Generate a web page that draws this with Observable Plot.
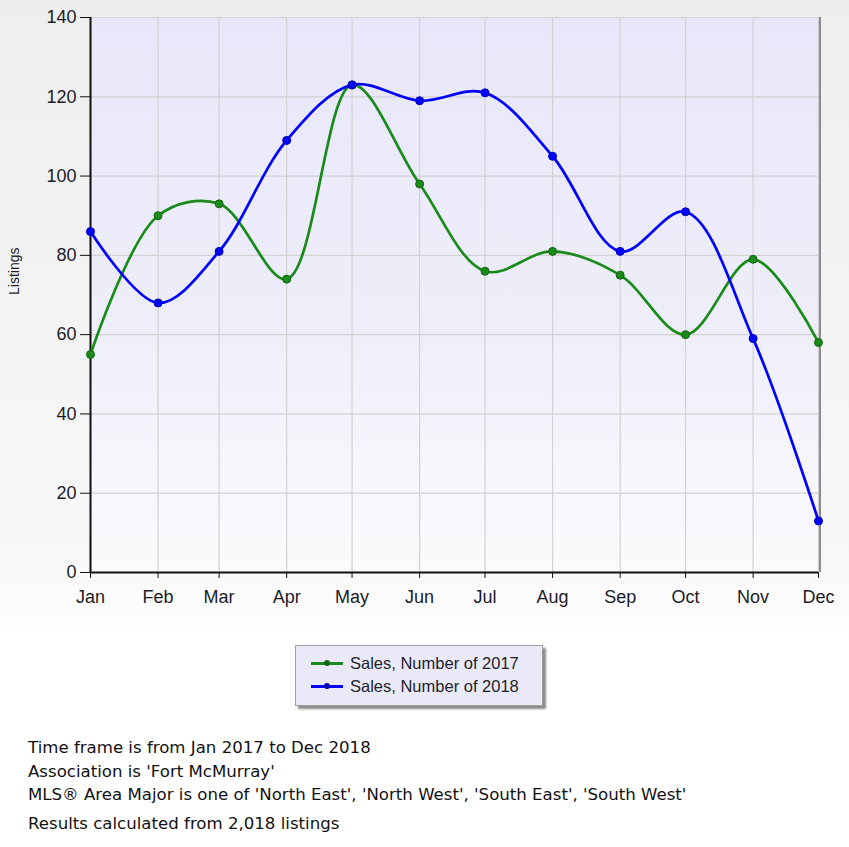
<!DOCTYPE html>
<html>
<head>
<meta charset="utf-8">
<script src="https://cdn.jsdelivr.net/npm/d3@7"></script>
<script src="https://cdn.jsdelivr.net/npm/@observablehq/plot@0.6"></script>
<style>
  html, body { margin: 0; padding: 0; }
  body { width: 849px; height: 847px; position: relative; overflow: hidden;
         background: linear-gradient(#eeeeee 0px, #f8f8f8 560px, #ffffff 640px); }
  #chart { position: absolute; left: 0; top: 0; }
  #legend { position: absolute; left: 295px; top: 645px; width: 246px; height: 59px;
            background: #e9e9f8; border: 1px solid #a0a0a0; box-shadow: 3px 3px 2px #8a8a8a;
            font-family: "Liberation Sans", Arial, sans-serif; font-size: 16.5px; color: #1e1e2a; }
  .row { position: absolute; left: 0; height: 20px; width: 100%; }
  .swatch { position: absolute; left: 15px; top: 9px; width: 32px; height: 3px; }
  .swatch i { position: absolute; left: 13px; top: -2px; width: 6px; height: 6px; border-radius: 50%; }
  .lbl { position: absolute; left: 54px; top: 0; line-height: 20px; white-space: nowrap; }
  #notes { position: absolute; left: 28px; top: 736px; font-family: "DejaVu Sans", Verdana, sans-serif;
           font-size: 16.6px; color: #111; line-height: 23.5px; }
  #notes .last { margin-top: 5px; }
</style>
</head>
<body>
<div id="chart"></div>
<div id="legend"></div>
<div id="notes">
  <div>Time frame is from Jan 2017 to Dec 2018</div>
  <div>Association is 'Fort McMurray'</div>
  <div>MLS® Area Major is one of 'North East', 'North West', 'South East', 'South West'</div>
  <div class="last">Results calculated from 2,018 listings</div>
</div>
<script>
const months = ["Jan","Feb","Mar","Apr","May","Jun","Jul","Aug","Sep","Oct","Nov","Dec"];
const sales2017 = [55, 90, 93, 74, 123, 98, 76, 81, 75, 60, 79, 58];
const sales2018 = [86, 68, 81, 109, 123, 119, 121, 105, 81, 91, 59, 13];
const yTicks = [0, 20, 40, 60, 80, 100, 120, 140];
const seriesNames = ["Sales, Number of 2017", "Sales, Number of 2018"];
const seriesColors = ["#1a8a1a", "#0000ff"];
const dotStrokes = ["#126612", "#0000b0"];

const dates = months.map((m, i) => new Date(Date.UTC(2017, i, 1)));
const data = [];
months.forEach((m, i) => {
  data.push({date: dates[i], value: sales2017[i], series: seriesNames[0]});
  data.push({date: dates[i], value: sales2018[i], series: seriesNames[1]});
});

const plot = Plot.plot({
  width: 849,
  height: 620,
  marginLeft: 90,
  marginRight: 31,
  marginTop: 17,
  marginBottom: 48,
  style: {background: "transparent", fontFamily: "'Liberation Sans', Arial, sans-serif", fontSize: "18px", color: "#1c1c28"},
  x: {type: "utc", domain: [dates[0], dates[11]]},
  y: {domain: [0, 140]},
  color: {domain: seriesNames, range: seriesColors},
  marks: [
    Plot.frame({fill: "url(#plotbg)", stroke: null}),
    Plot.gridX(dates, {stroke: "#d2d2d2", strokeOpacity: 1, strokeWidth: 1.2}),
    Plot.gridY(yTicks, {stroke: "#d2d2d2", strokeOpacity: 1, strokeWidth: 1.2}),
    Plot.ruleX([dates[11]], {stroke: "#8c8c8c", strokeWidth: 2, dx: 1.5}),
    Plot.ruleX([dates[0]], {stroke: "#111", strokeWidth: 2}),
    Plot.ruleY([0], {stroke: "#111", strokeWidth: 2}),
    Plot.axisX(dates, {tickFormat: d => months[d.getUTCMonth()], tickSize: 6, tickPadding: 12, label: null, stroke: "#111"}),
    Plot.axisY(yTicks, {tickSize: 10, tickPadding: 4, label: null, stroke: "#111"}),
    Plot.text(["Listings"], {frameAnchor: "left", rotate: -90, dx: -76, fontSize: 14, fill: "#1c1c28"}),
    Plot.line(data, {x: "date", y: "value", z: "series", stroke: "series", curve: "catmull-rom", strokeWidth: 2.7}),
    Plot.dot(data, {x: "date", y: "value", fill: "series", r: 4, stroke: d => dotStrokes[seriesNames.indexOf(d.series)], strokeWidth: 1})
  ]
});

const ns = "http://www.w3.org/2000/svg";
const defs = document.createElementNS(ns, "defs");
defs.innerHTML = '<linearGradient id="plotbg" x1="0" y1="0" x2="0" y2="1">' +
  '<stop offset="0" stop-color="#e7e7f9"/><stop offset="0.55" stop-color="#eeeefa"/><stop offset="1" stop-color="#fbfbfd"/></linearGradient>';
plot.insertBefore(defs, plot.firstChild);
document.getElementById("chart").appendChild(plot);

const legend = document.getElementById("legend");
seriesNames.forEach((name, i) => {
  const row = document.createElement("div");
  row.className = "row";
  row.style.top = (7 + i * 23) + "px";
  row.innerHTML = `<div class="swatch" style="background:${seriesColors[i]}"><i style="background:${dotStrokes[i]}"></i></div><div class="lbl">${name}</div>`;
  legend.appendChild(row);
});
</script>
</body>
</html>
